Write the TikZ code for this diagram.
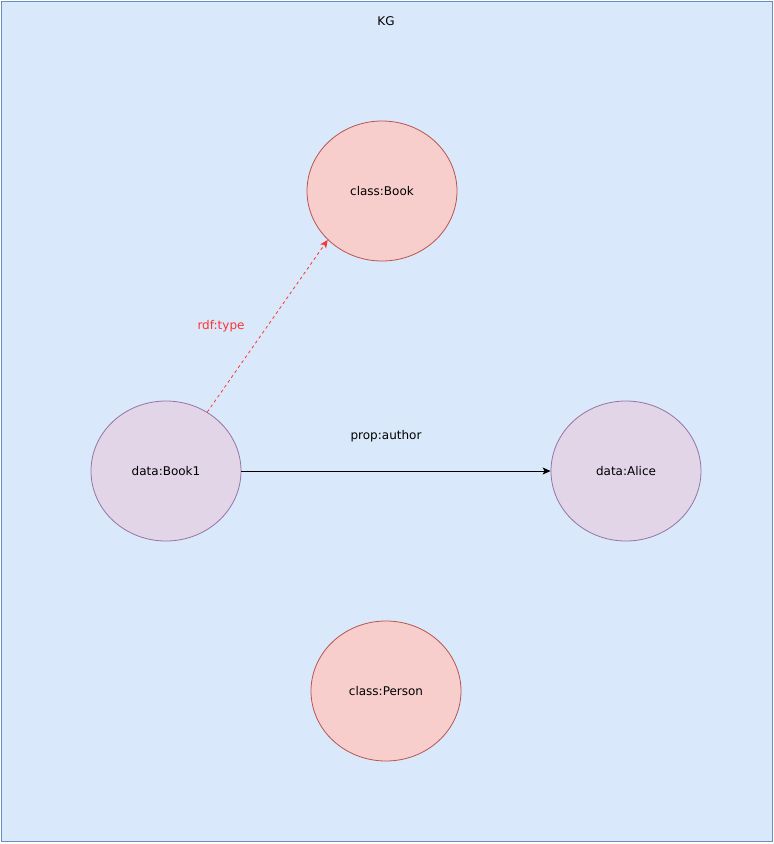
\documentclass[tikz,border=0pt]{standalone}
\usepackage{fontspec}
\setmainfont{DejaVu Sans}
\usetikzlibrary{shapes.geometric,arrows.meta}
\definecolor{kgfill}{HTML}{DAE8FC}
\definecolor{kgdraw}{HTML}{6C8EBF}
\definecolor{clsfill}{HTML}{F8CECC}
\definecolor{clsdraw}{HTML}{B85450}
\definecolor{datfill}{HTML}{E1D5E7}
\definecolor{datdraw}{HTML}{9673A6}
\definecolor{typered}{HTML}{FF3333}
\tikzset{
  every node/.style={font=\fontsize{12pt}{14pt}\selectfont},
  ent/.style={ellipse, minimum width=150pt, minimum height=140pt, inner sep=0pt, line width=0.8pt},
  clsnode/.style={ent, draw=clsdraw, fill=clsfill},
  datnode/.style={ent, draw=datdraw, fill=datfill},
  tip/.style={-{Stealth[length=8pt,width=7pt,inset=2pt]}},
}
\begin{document}
\begin{tikzpicture}[x=1pt,y=-1pt]
  \useasboundingbox (0,0) rectangle (774,844);
  % container
  \draw[kgdraw, fill=kgfill, line width=1pt] (1.5,1.5) rectangle (772.5,841.5);
  \node (title) at (386,21) {KG};
  % entities
  \node[clsnode] (book) at (382,191) {class:Book};
  \node[datnode] (book1) at (166,471) {data:Book1};
  \node[datnode] (alice) at (626,471) {data:Alice};
  \node[clsnode] (person) at (386,691) {class:Person};
  % relations
  \draw[tip, line width=0.8pt] (book1.east) -- (alice.west);
  \node (authorlbl) at (386,436.5) {prop:author};
  \draw[tip, typered, line width=0.8pt, dash pattern=on 3pt off 3pt] (book1.55) -- (book.222.75);
  \node[text=typered] (typelbl) at (221,326.5) {rdf:type};
\end{tikzpicture}
\end{document}
